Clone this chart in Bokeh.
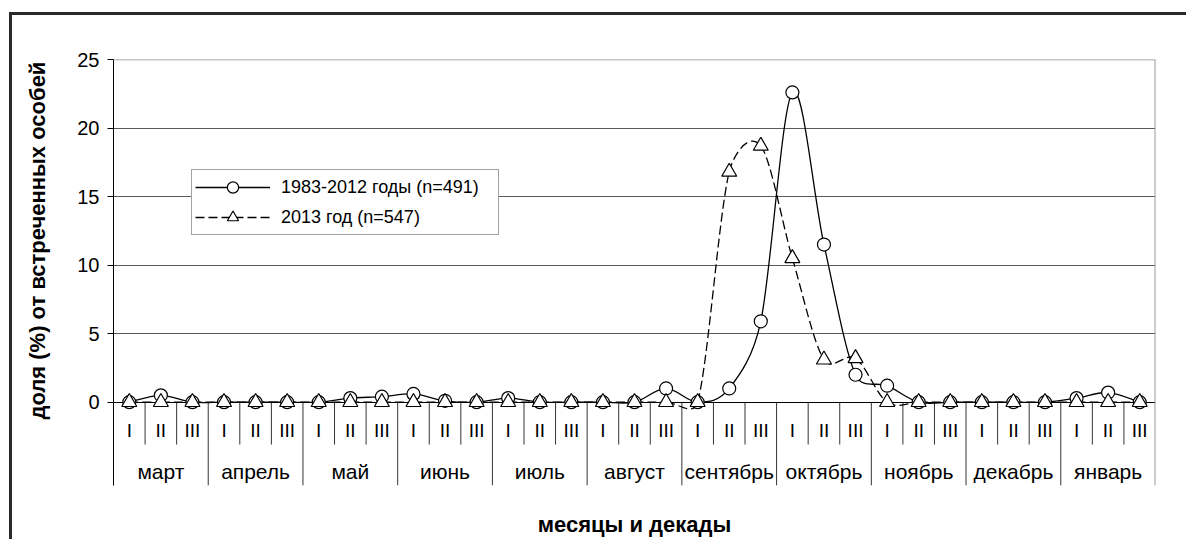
import math
from bokeh.plotting import figure
from bokeh.models import (Range1d, LinearAxis, FixedTicker, Legend, LegendItem, Span,
                          ColumnDataSource, Title)
from bokeh.embed import file_html
from bokeh.resources import INLINE

# ---------------- data ----------------
months = ["март", "апрель", "май", "июнь", "июль", "август", "сентябрь",
          "октябрь", "ноябрь", "декабрь", "январь"]
decades = ["I", "II", "III"]
label_1983 = "1983-2012 годы (n=491)"
label_2013 = "2013 год (n=547)"
vals_1983 = [0.0, 0.5, 0.0,   0.0, 0.0, 0.0,   0.0, 0.3, 0.4,   0.6, 0.1, 0.0,
             0.3, 0.0, 0.0,   0.0, 0.0, 1.0,   0.0, 1.0, 5.9,   22.6, 11.5, 2.0,
             1.2, 0.0, 0.0,   0.0, 0.0, 0.0,   0.3, 0.7, 0.0]
vals_2013 = [0.0, 0.0, 0.0,   0.0, 0.0, 0.0,   0.0, 0.0, 0.0,   0.0, 0.0, 0.0,
             0.0, 0.0, 0.0,   0.0, 0.0, 0.0,   0.0, 16.8, 18.7,  10.5, 3.1, 3.2,
             0.0, 0.0, 0.0,   0.0, 0.0, 0.0,   0.0, 0.0, 0.0]
y_ticks = [0, 5, 10, 15, 20, 25]

FONT = "Liberation Sans"
factors = [(m, d) for m in months for d in decades]
n = len(factors)
nd = len(decades)
xpos = [i + 0.5 for i in range(n)]          # centre of each decade slot

W, H = 1186, 539
ML, MR, MT, MB = 113, 31, 59, 53
Y_MIN, Y_MAX = -6.08, 25        # frame reaches down to the foot of the month dividers
DEC_SEP, MON_SEP = -3.09, Y_MIN  # divider lengths below the zero line

p = figure(width=W, height=H, x_range=Range1d(0, n), y_range=Range1d(Y_MIN, Y_MAX),
           output_backend="svg", toolbar_location=None, x_axis_location=None,
           min_border_left=ML, min_border_right=MR, min_border_top=MT,
           min_border_bottom=MB)
p.outline_line_color = None
p.background_fill_color = "white"
p.border_fill_color = "white"

# outer chart frame (top and left edges visible in the picture)
p.stylesheets = [
    ":host::after { content: ''; position: absolute; left: 9px; top: 12px; "
    "width: calc(100% - 9px); height: calc(100% - 12px); box-sizing: border-box; "
    "border-top: 3px solid #2a2a2a; border-left: 3px solid #2a2a2a; "
    "pointer-events: none; }"
]

# ---------------- grid ----------------
p.xgrid.visible = False
p.ygrid.ticker = FixedTicker(ticks=[t for t in y_ticks if 0 < t < 25])
p.ygrid.grid_line_color = "#5a5a5a"
p.ygrid.grid_line_width = 1

p.add_layout(Span(location=25, dimension="width", line_color="#8c8c8c", line_width=1.5))
p.add_layout(Span(location=n, dimension="height", line_color="#9a9a9a", line_width=2))

# ---------------- y axis ----------------
ya = p.yaxis[0]
ya.ticker = FixedTicker(ticks=y_ticks)
ya.axis_line_color = "black"
ya.major_tick_line_color = "black"
ya.major_tick_out = 6
ya.major_tick_in = 0
ya.minor_tick_line_color = None
ya.major_label_standoff = 8
ya.major_label_text_font = FONT
ya.major_label_text_font_size = "20px"
ya.major_label_text_color = "black"

# y title, aligned on the 0..25 part of the axis
p.add_layout(Title(text="доля (%) от встреченных особей", align="left", vertical_align="top",
                   offset=66, standoff=46, text_font=FONT, text_font_size="22px",
                   text_font_style="bold", text_color="black"), "left")


def x_axis(ticks, labels, standoff, size, line=False):
    ax = LinearAxis(fixed_location=0, ticker=FixedTicker(ticks=ticks))
    ax.axis_line_color = "black" if line else None
    ax.major_tick_out = 0
    ax.major_tick_in = 0
    ax.major_tick_line_color = None
    ax.minor_tick_line_color = None
    ax.major_label_overrides = {float(t): lab for t, lab in zip(ticks, labels)}
    ax.major_label_standoff = standoff
    ax.major_label_text_font = FONT
    ax.major_label_text_font_size = size
    ax.major_label_text_color = "black"
    p.add_layout(ax, "below")
    return ax


# decade labels (I, II, III) on the zero line
x_axis(xpos, [d for (_, d) in factors], 18, "19px", line=True)
# month labels
mon_centres = [k * nd + nd / 2 for k in range(len(months))]
x_axis(mon_centres, months, 58, "21px")

# separators between decades and between months
dec_b = [k for k in range(1, n) if k % nd != 0]
mon_b = [k for k in range(nd, n, nd)]
p.segment(x0=dec_b, y0=0, x1=dec_b, y1=DEC_SEP, line_color="#333333", line_width=1)
p.segment(x0=mon_b, y0=0, x1=mon_b, y1=MON_SEP, line_color="#333333", line_width=1)

# x axis title (carried by an empty axis under the plot)
ta = LinearAxis(ticker=FixedTicker(ticks=[]))
ta.axis_line_color = None
ta.major_tick_out = 0
ta.major_tick_in = 0
ta.minor_tick_out = 0
ta.minor_tick_in = 0
ta.major_label_standoff = 0
ta.axis_label = "месяцы и декады"
ta.axis_label_text_font = FONT
ta.axis_label_text_font_size = "22px"
ta.axis_label_text_font_style = "bold"
ta.axis_label_text_color = "black"
ta.axis_label_standoff = 26
p.add_layout(ta, "below")

# ---------------- smoothed lines (capped Catmull-Rom Bezier through data) ----------------
PX_X = (W - ML - MR) / n
PX_Y = (H - MT - MB) / (Y_MAX - Y_MIN)


def bezier_source(vals):
    pts = list(zip(xpos, vals))
    d = dict(x0=[], y0=[], x1=[], y1=[], cx0=[], cy0=[], cx1=[], cy1=[])
    m = len(pts)

    def cap(t, seg):
        ln = math.hypot(t[0] * PX_X, t[1] * PX_Y)
        lim = seg / 2.0
        if ln > lim and ln > 0:
            s = lim / ln
            return (t[0] * s, t[1] * s)
        return t

    for i in range(m - 1):
        p0 = pts[i - 1] if i > 0 else pts[i]
        p1 = pts[i]
        p2 = pts[i + 1]
        p3 = pts[i + 2] if i + 2 < m else pts[i + 1]
        seg = math.hypot((p2[0] - p1[0]) * PX_X, (p2[1] - p1[1]) * PX_Y)
        t1 = cap(((p2[0] - p0[0]) / 6.0, (p2[1] - p0[1]) / 6.0), seg)
        t2 = cap(((p3[0] - p1[0]) / 6.0, (p3[1] - p1[1]) / 6.0), seg)
        d["x0"].append(p1[0]); d["y0"].append(p1[1])
        d["x1"].append(p2[0]); d["y1"].append(p2[1])
        d["cx0"].append(p1[0] + t1[0]); d["cy0"].append(p1[1] + t1[1])
        d["cx1"].append(p2[0] - t2[0]); d["cy1"].append(p2[1] - t2[1])
    return ColumnDataSource(d)


bz1 = p.bezier(x0="x0", y0="y0", x1="x1", y1="y1", cx0="cx0", cy0="cy0", cx1="cx1",
               cy1="cy1", source=bezier_source(vals_1983), line_color="black", line_width=1.3)
bz2 = p.bezier(x0="x0", y0="y0", x1="x1", y1="y1", cx0="cx0", cy0="cy0", cx1="cx1",
               cy1="cy1", source=bezier_source(vals_2013), line_color="black", line_width=1.3,
               line_dash="9 4")

src1 = ColumnDataSource(dict(x=xpos, y=vals_1983))
src2 = ColumnDataSource(dict(x=xpos, y=vals_2013))
sc1 = p.scatter(x="x", y="y", source=src1, marker="circle", size=13, fill_color="white",
                line_color="black", line_width=1.2)
sc2 = p.scatter(x="x", y="y", source=src2, marker="triangle", size=15, fill_color="white",
                line_color="black", line_width=1.2)
sc1.level = "annotation"
sc2.level = "annotation"

# ---------------- legend ----------------
legend = Legend(items=[LegendItem(label=label_1983, renderers=[bz1, sc1]),
                       LegendItem(label=label_2013, renderers=[bz2, sc2])],
                location=(78, (H - MB) - 236), orientation="vertical",
                padding=3, spacing=2, glyph_height=28, glyph_width=75,
                label_standoff=11, label_width=214, margin=0,
                label_text_font=FONT, label_text_font_size="18px", label_text_color="black",
                border_line_color="#444444", border_line_width=1,
                background_fill_color="white", background_fill_alpha=1)
p.add_layout(legend)

open("out.html", "w").write(file_html(p, INLINE))
